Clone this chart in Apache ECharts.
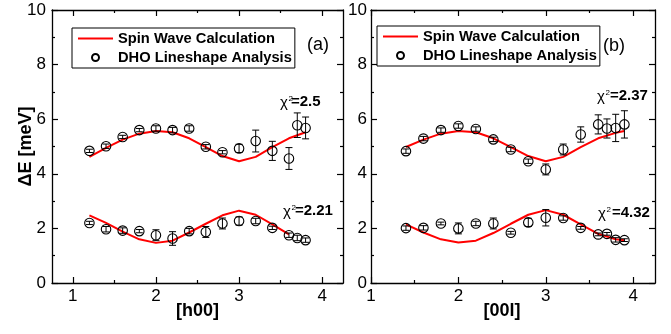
<!DOCTYPE html>
<html><head><meta charset="utf-8">
<script src="https://cdn.jsdelivr.net/npm/echarts@6/dist/echarts.min.js"></script>
<style>html,body{margin:0;padding:0;background:#fff}#c{width:671px;height:334px}</style>
</head><body><div id="c"></div>
<script>
// ---- Panel (a): [h00]
const hPts = [1.2,1.4,1.6,1.8,2.0,2.2,2.4,2.6,2.8,3.0,3.2,3.4,3.6,3.7,3.8];
const upperA = [4.84,5.01,5.35,5.60,5.66,5.60,5.66,4.99,4.79,4.93,5.20,4.84,4.56,5.78,5.68];
const upperAErr = [0.06,0.08,0.06,0.06,0.1,0.1,0.1,0.08,0.06,0.15,0.4,0.35,0.4,0.45,0.4];
const lowerA = [2.20,1.97,1.92,1.90,1.75,1.63,1.90,1.87,2.18,2.27,2.27,2.02,1.75,1.65,1.57];
const lowerAErr = [0.06,0.1,0.1,0.06,0.2,0.25,0.1,0.2,0.2,0.15,0.1,0.06,0.08,0.1,0.08];
const hCalcUpper = [1.2,1.4,1.6,1.8,2.0,2.2,2.4,2.6,2.8,3.0,3.2,3.4,3.6,3.8];
const calcUpperA = [4.62,4.95,5.25,5.47,5.57,5.52,5.30,4.98,4.65,4.46,4.62,4.98,5.30,5.52];
const hCalcLower = [1.2,1.4,1.6,1.8,2.0,2.2,2.4,2.6,2.8,3.0,3.2,3.4,3.6];
const calcLowerA = [2.48,2.20,1.88,1.60,1.47,1.55,1.85,2.17,2.48,2.65,2.50,2.15,1.78];
// ---- Panel (b): [00l]
const lPts = [1.4,1.6,1.8,2.0,2.2,2.4,2.6,2.8,3.0,3.2,3.4,3.6,3.7,3.8,3.9];
const upperB = [4.83,5.29,5.60,5.75,5.64,5.26,4.89,4.46,4.16,4.89,5.44,5.81,5.66,5.68,5.81];
const upperBErr = [0.08,0.08,0.08,0.08,0.08,0.08,0.08,0.08,0.2,0.2,0.28,0.35,0.35,0.5,0.5];
const lowerB = [2.01,2.02,2.18,2.00,2.18,2.18,1.84,2.22,2.39,2.38,2.02,1.78,1.80,1.58,1.57];
const lowerBErr = [0.08,0.08,0.05,0.2,0.08,0.2,0.05,0.15,0.3,0.08,0.05,0.05,0.05,0.08,0.05];
const lCalc = [1.4,1.6,1.8,2.0,2.2,2.4,2.6,2.8,3.0,3.2,3.4,3.6,3.8,3.9];
const calcUpperB = [4.98,5.25,5.47,5.57,5.52,5.30,4.98,4.65,4.46,4.62,4.98,5.30,5.50,5.57];
const calcLowerB = [2.15,1.85,1.60,1.48,1.55,1.83,2.17,2.50,2.67,2.50,2.15,1.80,1.60,1.57];
// ---- ticks / labels
const xMajor = [1,2,3,4];
const xMinor = [1.5,2.5,3.5];
const legendNames = ['Spin Wave Calculation','DHO Lineshape Analysis'];
const chiLabels = [['=2.5','=2.21'],['=2.37','=4.32']];
const panelTags = ['(a)','(b)'];
const xNames = ['[h00]','[00l]'];
const yName = '\u0394E [meV]';

const FONT = "'Liberation Sans', Arial, sans-serif";
const zip = (xs, ys) => xs.map((x,i)=>[x, ys[i]]);
const zip3 = (xs, ys, es) => xs.map((x,i)=>[x, ys[i], es[i]]);

const chart = echarts.init(document.getElementById('c'), null, {renderer:'canvas'});

const grids = [
  {left: 52, top: 10, width: 291, height: 273},
  {left: 371, top: 10, width: 284, height: 273}
];
const xRanges = [[0.75,4.25],[1,4.25]];

const axisLine = {show:true, lineStyle:{color:'#000', width:1.3}};
const xAxes = [], yAxes = [];
[0,1].forEach(g => {
  const [mn, mx] = xRanges[g];
  const base = {type:'value', gridIndex:g, min:mn, max:mx, splitLine:{show:false}};
  xAxes.push(Object.assign({}, base, {position:'bottom', axisLine,
    axisTick:{show:true, inside:true, length:6, customValues:xMajor, lineStyle:{color:'#000',width:1.2}},
    axisLabel:{show:true, customValues:xMajor, margin:5, color:'#000', fontSize:17, fontFamily:FONT},
    name:xNames[g], nameLocation:'middle', nameGap:19, nameMoveOverlap:false,
    nameTextStyle:{fontSize:18, fontWeight:'bold', color:'#000', fontFamily:FONT, padding: g===1?[0,22,0,0]:0}}));
  xAxes.push(Object.assign({}, base, {position:'bottom', axisLine:{show:false},
    axisTick:{show:true, inside:true, length:3, customValues:xMinor, lineStyle:{color:'#000',width:1.2}},
    axisLabel:{show:false}}));
  xAxes.push(Object.assign({}, base, {position:'top', axisLine,
    axisTick:{show:true, inside:true, length:6, customValues:xMajor, lineStyle:{color:'#000',width:1.2}},
    axisLabel:{show:false}}));
  xAxes.push(Object.assign({}, base, {position:'top', axisLine:{show:false},
    axisTick:{show:true, inside:true, length:3, customValues:xMinor, lineStyle:{color:'#000',width:1.2}},
    axisLabel:{show:false}}));
  const ybase = {type:'value', gridIndex:g, min:0, max:10, interval:2, splitLine:{show:false},
    axisTick:{show:true, inside:true, length:6, lineStyle:{color:'#000',width:1.2}},
    minorTick:{show:true, splitNumber:2, length:3, lineStyle:{color:'#000',width:1.2}}, axisLine};
  yAxes.push(Object.assign({}, ybase, {position:'left',
    axisLabel:{show:true, margin: g===0?6:4, color:'#000', fontSize:17, fontFamily:FONT},
    name: g===0 ? yName : '', nameLocation:'middle', nameGap:17, nameMoveOverlap:false,
    nameTextStyle:{fontSize:18, fontWeight:'bold', color:'#000', fontFamily:FONT}}));
  yAxes.push(Object.assign({}, ybase, {position:'right', axisLabel:{show:false}}));
});

function errRender(params, api){
  const x = api.value(0), y = api.value(1), e = api.value(2);
  const t = api.coord([x, y+e]), b = api.coord([x, y-e]);
  const w = 3.5, st = {stroke:'#000', lineWidth:1};
  return {type:'group', children:[
    {type:'line', shape:{x1:t[0],y1:t[1],x2:b[0],y2:b[1]}, style:st},
    {type:'line', shape:{x1:t[0]-w,y1:t[1],x2:t[0]+w,y2:t[1]}, style:st},
    {type:'line', shape:{x1:b[0]-w,y1:b[1],x2:b[0]+w,y2:b[1]}, style:st}
  ]};
}

const series = [];
function addPanel(g, calcX1, calc1, calcX2, calc2, ptsX, d1, e1, d2, e2){
  const xi = g*4, yi = g*2;
  [[calcX1,calc1],[calcX2,calc2]].forEach(([xs,ys]) => series.push({
    type:'line', name:legendNames[0], xAxisIndex:xi, yAxisIndex:yi, data:zip(xs,ys),
    symbol:'none', showSymbol:false, lineStyle:{color:'#f00', width:2}, itemStyle:{color:'#f00'}, z:2, animation:false}));
  [[d1,e1],[d2,e2]].forEach(([ys,es]) => {
    series.push({type:'custom', name:'err', xAxisIndex:xi, yAxisIndex:yi, data:zip3(ptsX,ys,es),
      renderItem:errRender, z:4, animation:false, silent:true});
    series.push({type:'scatter', name:legendNames[1], xAxisIndex:xi, yAxisIndex:yi, data:zip(ptsX,ys),
      symbol:'circle', symbolSize:9.5,
      itemStyle:{color:'rgba(255,255,255,0)', borderColor:'#000', borderWidth:1.1, opacity:1}, z:5, animation:false});
  });
}
addPanel(0, hCalcUpper, calcUpperA, hCalcLower, calcLowerA, hPts, upperA, upperAErr, lowerA, lowerAErr);
addPanel(1, lCalc, calcUpperB, lCalc, calcLowerB, lPts, upperB, upperBErr, lowerB, lowerBErr);

const legendPos = [{left:72, top:28},{left:377, top:26}];
const legends = legendPos.map(p => Object.assign({
  orient:'vertical', selectedMode:false, backgroundColor:'#fff',
  borderColor:'#000', borderWidth:1, padding:[3,3,3,6], itemGap:4, itemWidth:35, itemHeight:7,
  textStyle:{fontSize:14.7, fontWeight:'bold', color:'#000', fontFamily:FONT},
  data:[{name:legendNames[0], icon:'path://M0,0h35v2h-35z'},{name:legendNames[1], icon:'circle'}]
}, p));

function chi(x, xv, y, val){
  return [
    {type:'text', x:x, y:y+1, style:{text:'\u03c7', fontSize:15, fontFamily:FONT, fill:'#000', verticalAlign:'middle'}},
    {type:'text', x:x+8.5, y:y-7, style:{text:'2', fontSize:8, fontFamily:FONT, fill:'#000', verticalAlign:'top'}},
    {type:'text', x:xv, y:y, style:{text:val, fontSize:15, fontWeight:'bold', fontFamily:FONT, fill:'#000', verticalAlign:'middle'}}
  ];
}
const graphic = [
  {type:'text', x:307, y:45, style:{text:panelTags[0], fontSize:18, fontFamily:FONT, fill:'#000', verticalAlign:'middle'}},
  {type:'text', x:603, y:46, style:{text:panelTags[1], fontSize:18, fontFamily:FONT, fill:'#000', verticalAlign:'middle'}},
  ...chi(280, 291, 102, chiLabels[0][0]),
  ...chi(283, 295, 211, chiLabels[0][1]),
  ...chi(597, 610, 96, chiLabels[1][0]),
  ...chi(598, 612, 213, chiLabels[1][1])
];

chart.setOption({
  animation:false,
  backgroundColor:'#fff',
  grid: grids,
  xAxis: xAxes,
  yAxis: yAxes,
  legend: legends,
  series: series,
  graphic: graphic
});
</script></body></html>
